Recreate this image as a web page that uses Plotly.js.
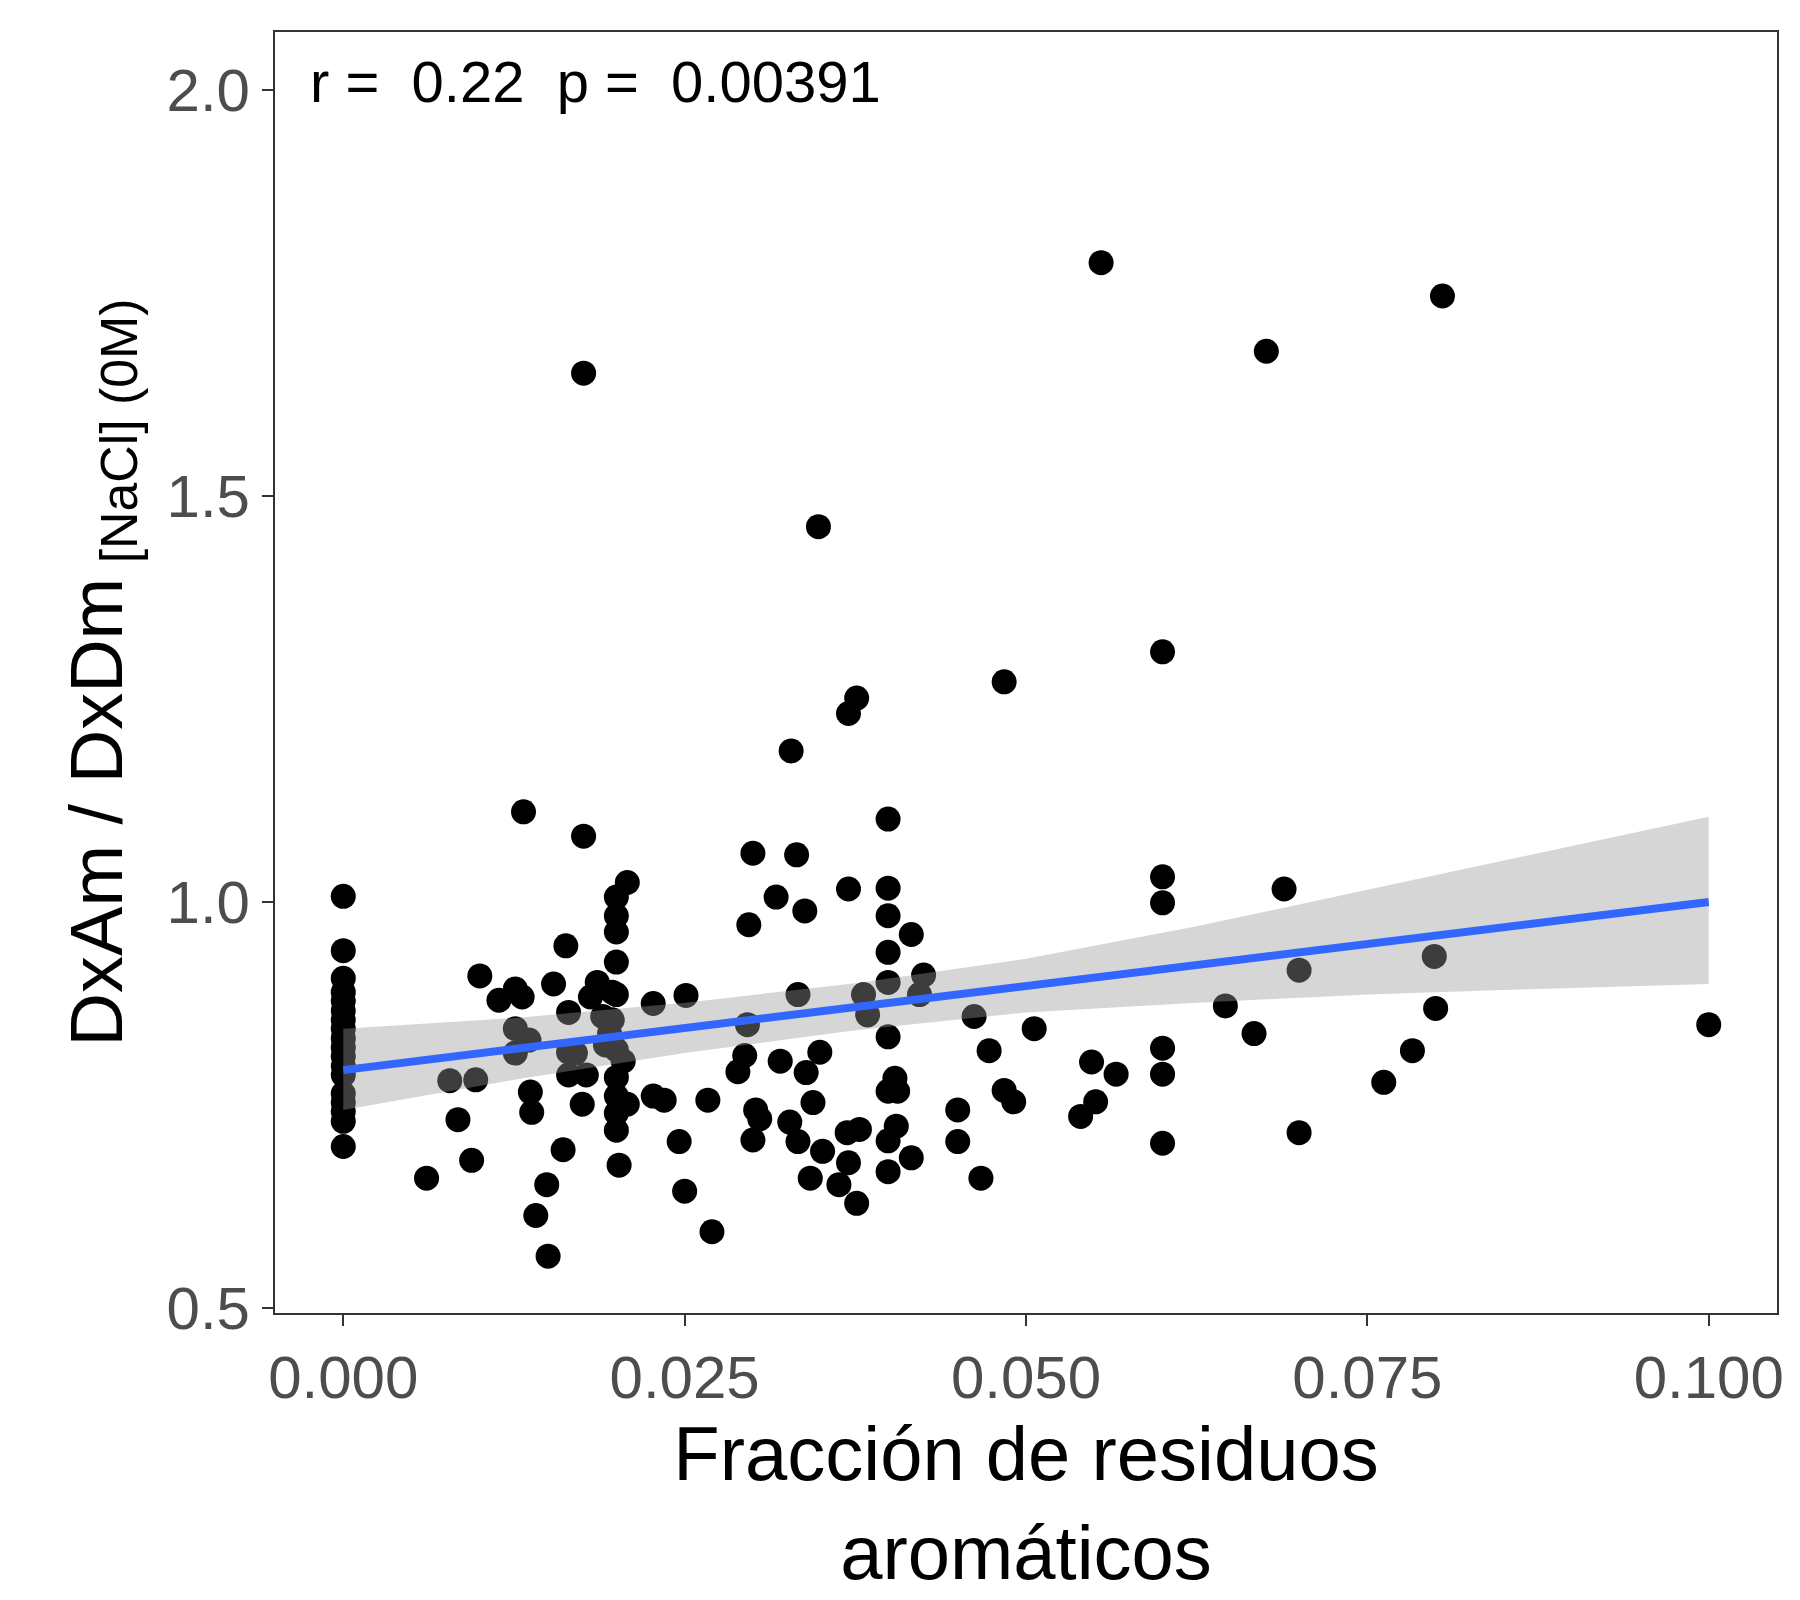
<!DOCTYPE html>
<html>
<head>
<meta charset="utf-8">
<script src="https://cdn.plot.ly/plotly-3.0.1.min.js"></script>
<style>body{margin:0;background:#fff}</style>
</head>
<body>
<div id="plot" style="width:1800px;height:1600px"></div>
<script>
// aromatic fraction vs DxAm/DxDm ratio
const fracX = [
  0,0,0,0,0,0,0,0,0,0,0,0,0,0,0,0,0,0,
  .0061,.0078,.0084,.0094,.0097,.010,.0114,.0126,.0126,.0126,.0131,.0132,.0136,.0137,.0138,.0141,.0149,.0150,
  .0154,.0161,.0163,.0165,.0165,.0165,.0170,.0175,.0176,.0176,.0178,.0181,.0186,.019,.0192,.0195,.0197,.0197,
  .02,.02,.02,.02,.02,.02,.02,.02,.02,.02,.0202,.0205,.0208,.0208,.0227,.0227,.0235,.0246,.025,.0251,
  .0267,.027,.0289,.0294,.0296,.0297,.03,.03,.0302,.0305,.0317,.032,.0327,.0328,.0332,.0333,.0333,.0338,
  .0339,.0342,.0344,.0349,.0348,.0351,.0363,.037,.037,.037,.0369,.0376,.0376,.0378,.0381,.0384,
  .0399,.0399,.0399,.0399,.0399,.0399,.0399,.0399,.0399,.0404,.0405,.0406,.0416,.0416,.0422,.0425,
  .045,.045,.0462,.0467,.0473,.0484,.0484,.0491,.0506,.054,.0548,.0551,.0555,.0566,
  .06,.06,.06,.06,.06,.06,.0646,.0667,.0676,.0689,.07,.07,.0762,.0783,.0799,.080,.0805,.100
];
const ratioY = [
  1.007,.94,.906,.889,.878,.866,.855,.844,.832,.821,.81,.798,.787,.764,.753,.742,.73,.699,
  .66,.78,.732,.682,.781,.909,.879,.893,.844,.814,.883,1.111,.83,.766,.741,.614,.652,.564,
  .899,.695,.946,.864,.815,.787,.814,.751,1.651,1.081,.787,.883,.901,.859,.824,.838,.889,.855,
  1.006,.983,.963,.926,.886,.818,.784,.761,.74,.719,.676,.804,1.024,.751,.761,.875,.756,.705,.644,.885,
  .756,.594,.791,.811,.849,.972,1.06,.707,.744,.733,1.006,.804,.729,1.186,1.058,.886,.705,.989,
  .79,.66,.753,.815,1.462,.693,.652,.679,1.232,1.016,.716,.629,1.251,.72,.886,.861,
  1.102,1.017,.983,.938,.901,.834,.767,.706,.668,.783,.724,.767,.685,.96,.886,.91,
  .705,.744,.859,.66,.817,1.271,.768,.754,.844,.736,.803,.754,1.787,.788,
  1.308,1.031,.999,.82,.788,.703,.872,.838,1.678,1.016,.916,.716,.778,.817,.933,.869,1.746,.849
];
// fitted line and confidence band
const fitX = [0, 0.0125, 0.025, 0.0375, 0.05, 0.0625, 0.075, 0.0875, 0.1];
const fitY = [0.793, 0.819, 0.845, 0.871, 0.897, 0.922, 0.948, 0.974, 1.0];
const bandUpper = [0.844, 0.857, 0.876, 0.900, 0.930, 0.970, 1.015, 1.060, 1.105];
const bandLower = [0.744, 0.781, 0.814, 0.842, 0.864, 0.876, 0.886, 0.893, 0.899];

const axisCommon = {
  showline: true, mirror: true, linecolor: '#333', linewidth: 2,
  showgrid: false, zeroline: false, ticks: 'outside', ticklen: 11, tickwidth: 2, tickcolor: '#333',
  tickfont: {family: 'Liberation Sans, Arial', size: 60, color: '#4d4d4d'}
};

const traces = [
  {x: fracX, y: ratioY, mode: 'markers', type: 'scatter',
   marker: {size: 25, color: '#000'}, showlegend: false},
  {x: fitX, y: bandLower, mode: 'lines', line: {width: 0}, hoverinfo: 'skip', showlegend: false},
  {x: fitX, y: bandUpper, mode: 'lines', line: {width: 0}, fill: 'tonexty',
   fillcolor: 'rgba(153,153,153,0.4)', hoverinfo: 'skip', showlegend: false},
  {x: fitX, y: fitY, mode: 'lines', line: {color: '#3366FF', width: 8}, showlegend: false}
];

const layout = {
  width: 1800, height: 1600,
  paper_bgcolor: '#fff', plot_bgcolor: '#fff',
  margin: {l: 275, r: 23, t: 32, b: 287},
  xaxis: Object.assign({}, axisCommon, {
    range: [-0.005, 0.105], tickvals: [0, 0.025, 0.05, 0.075, 0.1],
    ticktext: ['0.000', '0.025', '0.050', '0.075', '0.100'],
    title: {text: 'Fracción de residuos<br>aromáticos', standoff: 15,
            font: {family: 'Liberation Sans, Arial', size: 76, color: '#000'}}
  }),
  yaxis: Object.assign({}, axisCommon, {
    range: [0.494, 2.071], tickvals: [0.5, 1.0, 1.5, 2.0],
    ticktext: ['0.5', '1.0', '1.5', '2.0'],
    title: {text: 'DxAm / DxDm<sub> [NaCl] (0M)</sub>', standoff: 20,
            font: {family: 'Liberation Sans, Arial', size: 74, color: '#000'}}
  }),
  annotations: [{
    xref: 'paper', yref: 'paper', x: 0.022, y: 0.988, xanchor: 'left', yanchor: 'top',
    text: 'r =  0.22  p =  0.00391', showarrow: false,
    font: {family: 'Liberation Sans, Arial', size: 58, color: '#000'}
  }]
};

Plotly.newPlot('plot', traces, layout, {displayModeBar: false});
</script>
</body>
</html>
